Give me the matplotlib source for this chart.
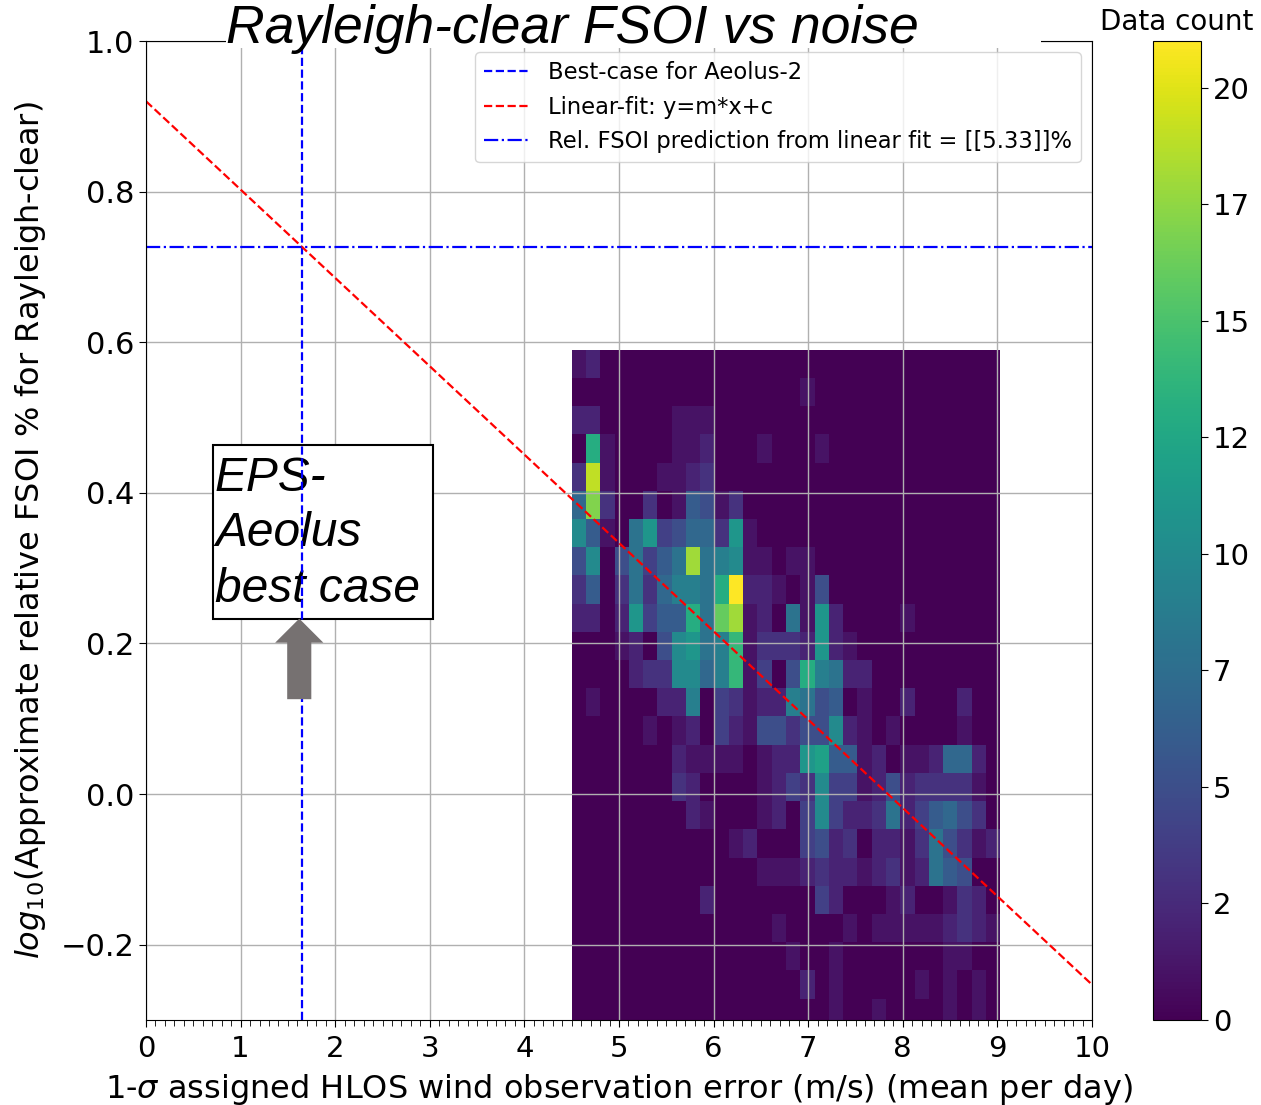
import numpy as np
import matplotlib
matplotlib.use('Agg')
import matplotlib.pyplot as plt
from matplotlib.ticker import MultipleLocator, FormatStrFormatter
from matplotlib.patches import Rectangle, FancyArrow

# ---------------- data ----------------
x_min, x_max, n_xbins = 4.5, 9.03, 30
y_min, y_max, n_ybins = -0.309, 0.590, 24

# 2D histogram counts, rows listed from TOP (highest y) to bottom, 30 columns (x from 4.5 to 9.0)
counts_top_down = [
    [1,2,0,0,0,0,0,0,0,0, 0,0,0,0,0,0,0,0,0,0, 0,0,0,0,0,0,0,0,0,0],
    [0,0,0,0,0,0,0,0,0,0, 0,0,0,0,0,0,1,0,0,0, 0,0,0,0,0,0,0,0,0,0],
    [2,2,0,0,0,0,0,1,1,1, 0,0,0,0,0,0,0,0,0,0, 0,0,0,0,0,0,0,0,0,0],
    [0,13,1,0,0,0,0,1,1,2, 0,0,0,1,0,0,0,1,0,0, 0,0,0,0,0,0,0,0,0,0],
    [3,19,1,0,0,0,1,1,2,3, 0,0,0,0,0,0,0,0,0,0, 0,0,0,0,0,0,0,0,0,0],
    [7,17,3,0,0,3,0,1,6,5, 1,3,0,0,0,0,0,0,0,0, 0,0,0,0,0,0,0,0,0,0],
    [10,6,1,0,8,11,4,5,7,7, 3,11,1,0,0,0,0,0,0,0, 0,0,0,0,0,0,0,0,0,0],
    [5,10,0,5,8,4,6,8,18,8, 9,10,1,1,0,1,1,0,0,0, 0,0,0,0,0,0,0,0,0,0],
    [3,6,0,3,8,3,7,9,9,8, 13,21,2,2,1,0,1,5,0,0, 0,0,0,0,0,0,0,0,0,0],
    [2,2,0,2,11,4,6,6,13,8, 16,18,1,2,0,8,1,11,2,0, 0,0,0,1,0,0,0,0,0,0],
    [0,0,0,1,2,0,5,10,11,8, 9,14,1,3,3,3,2,11,2,1, 0,0,0,0,0,0,0,0,0,0],
    [0,0,0,0,2,3,3,10,10,7, 9,14,1,4,0,5,13,9,8,2, 2,0,0,0,0,0,0,0,0,0],
    [0,1,0,0,0,0,2,2,9,0, 4,3,1,2,2,9,8,5,6,0, 1,0,0,2,0,0,0,2,0,0],
    [0,0,0,0,0,1,0,1,2,0, 4,2,1,5,5,3,5,5,10,2, 1,0,1,0,0,0,0,1,0,0],
    [0,0,0,0,0,0,0,2,1,1, 1,1,0,1,2,2,11,12,6,6, 1,2,0,1,1,2,7,7,2,0],
    [0,0,0,0,0,0,0,3,2,0, 0,0,0,1,2,4,3,10,4,4, 1,2,5,2,3,3,3,3,1,0],
    [0,0,0,0,0,0,0,0,2,1, 0,0,0,1,2,0,4,10,4,2, 2,3,8,2,4,6,7,5,3,0],
    [0,0,0,0,0,0,0,0,0,0, 0,1,2,0,0,0,4,5,2,3, 0,2,2,1,3,8,5,3,1,2],
    [0,0,0,0,0,0,0,0,0,0, 0,0,0,1,1,1,2,3,2,2, 1,2,3,1,2,8,6,5,0,0],
    [0,0,0,0,0,0,0,0,0,2, 0,0,0,0,0,0,0,4,2,0, 0,0,1,2,0,0,1,3,2,0],
    [0,0,0,0,0,0,0,0,0,0, 0,0,0,0,1,0,0,0,0,1, 0,1,1,1,1,1,2,3,2,1],
    [0,0,0,0,0,0,0,0,0,0, 0,0,0,0,0,1,0,0,1,0, 0,0,0,0,0,0,1,1,0,0],
    [0,0,0,0,0,0,0,0,0,0, 0,0,0,0,0,0,2,0,1,0, 0,0,0,0,1,0,1,0,1,0],
    [0,0,0,0,0,0,0,0,0,0, 0,0,0,0,0,0,0,0,1,0, 0,1,0,0,0,0,1,0,1,0],
]

best_case_x = 1.65          # best-case obs error for Aeolus-2 (m/s)
fit_m, fit_c = -0.1173, 0.920
rel_fsoi_pred = 5.33        # %

x_ticks = list(range(0, 11))
y_ticks = [-0.2, 0.0, 0.2, 0.4, 0.6, 0.8, 1.0]
cbar_ticks = [0, 2.5, 5, 7.5, 10, 12.5, 15, 17.5, 20]

title_text = 'Rayleigh-clear FSOI vs noise'
box_text = 'EPS-\nAeolus\nbest case'

# ---------------- figure ----------------
W, H = 1261, 1105
fig = plt.figure(figsize=(W / 100, H / 100), dpi=100)

def fx(px):
    return px / W

def fy(py):
    return 1 - py / H

ax = fig.add_axes([fx(146), fy(1020), fx(1092) - fx(146), fy(41) - fy(1020)])
cax = fig.add_axes([fx(1153), fy(1020), fx(1201) - fx(1153), fy(41) - fy(1020)])

counts = np.array(counts_top_down)[::-1]
xedges = np.linspace(x_min, x_max, n_xbins + 1)
yedges = np.linspace(y_min, y_max, n_ybins + 1)
mesh = ax.pcolormesh(xedges, yedges, counts, cmap='viridis', vmin=0, vmax=counts.max())

ax.axvline(best_case_x, color='blue', ls='--', lw=1.6, label='Best-case for Aeolus-2', zorder=2)
xs = np.array([0.0, 10.0])
ax.plot(xs, fit_m * xs + fit_c, color='red', ls='--', lw=1.6, label='Linear-fit: y=m*x+c', zorder=2)
ax.axhline(np.log10(rel_fsoi_pred), color='blue', ls='-.', lw=1.6,
           label='Rel. FSOI prediction from linear fit = [[%.2f]]%%' % rel_fsoi_pred, zorder=2)

ax.set_xlim(0, 10)
ax.set_ylim(-0.3, 1.0)
ax.set_xticks(x_ticks)
ax.set_yticks(y_ticks)
ax.xaxis.set_minor_locator(MultipleLocator(0.1))
ax.tick_params(axis='x', which='major', labelsize=21, length=5, pad=6)
ax.tick_params(axis='y', which='major', labelsize=22, length=5)
ax.tick_params(axis='x', which='minor', length=4)
ax.grid(True, which='major', color='#b0b0b0', lw=1.0)
ax.set_xlabel(r'1-$\sigma$ assigned HLOS wind observation error (m/s) (mean per day)', fontsize=23,
              labelpad=6.5)
ax.set_ylabel(r'$log_{10}$(Approximate relative FSOI % for Rayleigh-clear)', fontsize=23,
              labelpad=9)
ax.legend(loc='upper right', fontsize=16.3)

cb = fig.colorbar(mesh, cax=cax, ticks=cbar_ticks, format=FormatStrFormatter('%d'))
cb.ax.tick_params(labelsize=21, length=5)
cb.ax.set_title('Data count', fontsize=20, pad=8)

# annotation box with text (drawn inside axes so the blue line stays on top)
box = Rectangle((fx(213), fy(619)), fx(433) - fx(213), fy(445) - fy(619), transform=fig.transFigure,
                facecolor='white', edgecolor='black', lw=1.5, zorder=1.8)
ax.add_patch(box)
ax.text(fx(215), fy(456), box_text, transform=fig.transFigure, ha='left', va='top',
        fontsize=34.5, style='italic', family=['Liberation Sans', 'DejaVu Sans'],
        linespacing=1.3, zorder=1.9)

arrow = FancyArrow(1.62, 0.126, 0, 0.233 - 0.126, width=0.255, head_width=0.51,
                   head_length=0.032, length_includes_head=True,
                   facecolor='#767171', edgecolor='none', zorder=3)
ax.add_patch(arrow)

# title overlay with white background
fig.patches.append(Rectangle((fx(226), fy(48)), fx(1041) - fx(226), fy(0) - fy(48),
                             transform=fig.transFigure, facecolor='white', edgecolor='none', zorder=5))
fig.text(fx(572), fy(29), title_text, ha='center', va='center', fontsize=38.5, style='italic',
         family=['Liberation Sans', 'DejaVu Sans'], zorder=6)

fig.savefig('out.png', dpi=100)
